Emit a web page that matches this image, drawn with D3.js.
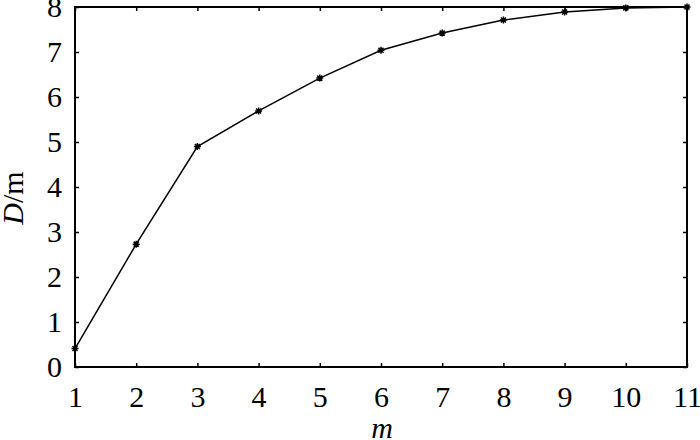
<!DOCTYPE html>
<html>
<head>
<meta charset="utf-8">
<script src="https://cdn.jsdelivr.net/npm/d3@7"></script>
<style>
  body { margin: 0; background: #fff; }
  svg text { font-family: "Liberation Serif", LiberationSerif, Times, "Times New Roman", "DejaVu Serif Condensed", serif; fill: #000; }
</style>
</head>
<body>
<div id="chart"></div>
<script>
var svgWidth = 700;
var svgHeight = 440;
var margin = { top: 7, right: 13, bottom: 73, left: 75 };
var chartWidth = svgWidth - margin.left - margin.right;
var chartHeight = svgHeight - margin.top - margin.bottom;

// data
var mValues = [1, 2, 3, 4, 5, 6, 7, 8, 9, 10, 11];
var dValues = [0.41, 2.73, 4.9, 5.69, 6.42, 7.04, 7.42, 7.71, 7.89, 7.98, 8.0];
var xTicks = [1, 2, 3, 4, 5, 6, 7, 8, 9, 10, 11];
var yTicks = [0, 1, 2, 3, 4, 5, 6, 7, 8];

var svg = d3.select('#chart').append('svg')
  .attr('width', svgWidth)
  .attr('height', svgHeight);

var chartGroup = svg.append('g')
  .attr('transform', `translate(${margin.left}, ${margin.top})`);

var xScale = d3.scaleLinear().domain([1, 11]).range([0, chartWidth]);
var yScale = d3.scaleLinear().domain([0, 8]).range([chartHeight, 0]);

// axes with inward ticks, mirrored on top and right
function styleAxis(g) {
  g.attr('font-family', null);
  g.select('.domain').remove();
  g.selectAll('.tick line').attr('stroke', '#000').attr('stroke-width', 1.5);
  g.selectAll('.tick text').attr('font-size', '30px');
}

chartGroup.append('g')
  .attr('transform', `translate(0, ${chartHeight})`)
  .call(d3.axisBottom(xScale).tickValues(xTicks).tickSizeInner(-4).tickSizeOuter(0).tickPadding(19))
  .call(styleAxis);

chartGroup.append('g')
  .call(d3.axisTop(xScale).tickValues(xTicks).tickSizeInner(-4).tickSizeOuter(0).tickFormat(''))
  .call(styleAxis);

chartGroup.append('g')
  .call(d3.axisLeft(yScale).tickValues(yTicks).tickSizeInner(-4).tickSizeOuter(0).tickPadding(13))
  .call(styleAxis);

chartGroup.append('g')
  .attr('transform', `translate(${chartWidth}, 0)`)
  .call(d3.axisRight(yScale).tickValues(yTicks).tickSizeInner(-4).tickSizeOuter(0).tickFormat(''))
  .call(styleAxis);

// frame
chartGroup.append('rect')
  .attr('x', 0)
  .attr('y', 0)
  .attr('width', chartWidth)
  .attr('height', chartHeight)
  .attr('fill', 'none')
  .attr('stroke', '#000')
  .attr('stroke-width', 2);

// the line
var points = mValues.map(function(m, i) { return { m: m, d: dValues[i] }; });

var line = d3.line()
  .x(d => xScale(d.m))
  .y(d => yScale(d.d));

chartGroup.append('path')
  .datum(points)
  .attr('d', line)
  .attr('fill', 'none')
  .attr('stroke', '#000')
  .attr('stroke-width', 1.5);

// small star markers
var markers = chartGroup.append('g')
  .selectAll('g')
  .data(points)
  .enter()
  .append('g')
  .attr('transform', d => `translate(${xScale(d.m)}, ${yScale(d.d)})`);

markers.append('path')
  .attr('d', 'M-3.5,0H3.5M0,-3.5V3.5M-2.5,-2.5L2.5,2.5M-2.5,2.5L2.5,-2.5')
  .attr('stroke', '#000')
  .attr('stroke-width', 1.5);

// axis titles
svg.append('text')
  .attr('x', margin.left + chartWidth / 2 + 1)
  .attr('y', 438)
  .attr('text-anchor', 'middle')
  .attr('font-size', '30px')
  .attr('font-style', 'italic')
  .text('m');

var yTitle = svg.append('text')
  .attr('transform', 'translate(23, 198) rotate(-90)')
  .attr('text-anchor', 'middle')
  .attr('font-size', '30px');
yTitle.append('tspan').attr('font-style', 'italic').text('D');
yTitle.append('tspan').text('/m');
</script>
</body>
</html>
